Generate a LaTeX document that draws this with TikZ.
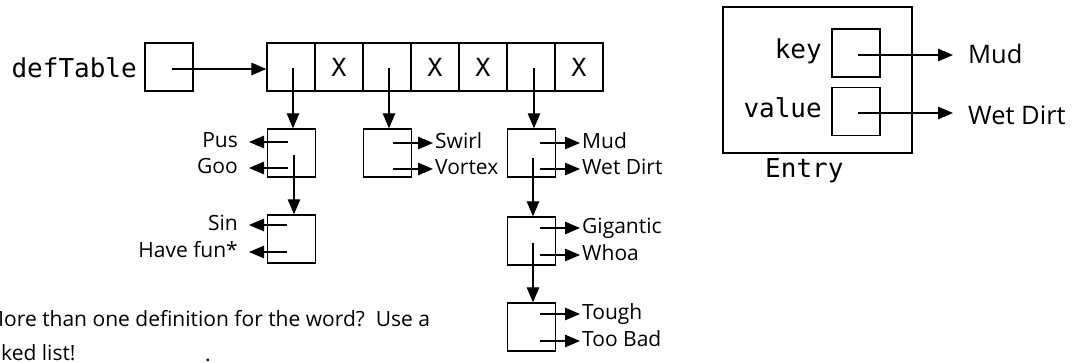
\documentclass[tikz,border=0pt]{standalone}
\usepackage{fontspec}
\setmainfont{Open Sans}
\newfontfamily\codefont{DejaVu Sans Mono}
\usetikzlibrary{arrows.meta}
\tikzset{
  cell/.style={draw, line width=1.3pt, minimum width=48pt, minimum height=48pt,
    inner sep=0pt, font=\codefont\fontsize{25}{30}\selectfont},
  ptr/.style={line width=1.2pt, -{Triangle[length=15pt,width=12.5pt]}},
  word/.style={inner ysep=0pt, inner xsep=2pt, font=\fontsize{21}{25}\selectfont},
  lword/.style={word, anchor=base east, inner xsep=11pt},
  rword/.style={word, anchor=base west},
  bigword/.style={inner ysep=0pt, inner xsep=15pt, anchor=base west,
    font=\fontsize{25.5}{30}\selectfont},
  code/.style={inner sep=0pt, font=\codefont\fontsize{26}{30}\selectfont},
}
\begin{document}
\begin{tikzpicture}[x=1pt,y=-1pt]
\useasboundingbox (0,0) rectangle (1072,362);

% the table reference
\node[code, anchor=base east] (deflabel) at (137,77) {defTable};
\node[cell] (def) at (169,67) {};

% the table slots
\node[cell] (c0) at (291,67) {};
\node[cell] (c1) at (339,67) {X};
\node[cell] (c2) at (387,67) {};
\node[cell] (c3) at (435,67) {X};
\node[cell] (c4) at (483,67) {X};
\node[cell] (c5) at (531,67) {};
\node[cell] (c6) at (579,67) {X};

% chain nodes
\node[cell] (n1) at (291.5,153) {};
\node[cell] (n2) at (291.5,239) {};
\node[cell] (s1) at (387.5,153) {};
\node[cell] (m1) at (531.5,153) {};
\node[cell] (m2) at (531.5,241) {};
\node[cell] (m3) at (531.5,327) {};

% pointer origins
\coordinate (defpt) at (172,69);
\coordinate (c0pt) at (293,68);
\coordinate (c2pt) at (389,68);
\coordinate (c5pt) at (534,68);
\coordinate (n1a) at (288,142);
\coordinate (n1b) at (288,168);
\coordinate (n1d) at (294,155);
\coordinate (n2a) at (287,225);
\coordinate (n2b) at (287,252);
\coordinate (s1a) at (393,143);
\coordinate (s1b) at (393,169);
\coordinate (m1a) at (540,143);
\coordinate (m1b) at (540,169);
\coordinate (m1d) at (533,158);
\coordinate (m2a) at (540,228);
\coordinate (m2b) at (540,255);
\coordinate (m2d) at (533,243);
\coordinate (m3a) at (540,314);
\coordinate (m3b) at (540,341);

% words
\node[lword] (pus) at (249,147.5) {Pus};
\node[lword] (goo) at (249,173.5) {Goo};
\node[lword] (sin) at (249,230.5) {Sin};
\node[lword] (fun) at (249,257.5) {Have fun*};
\node[rword] (swirl) at (433,148.5) {Swirl};
\node[rword] (vortex) at (433,174.5) {Vortex};
\node[rword] (mud) at (580,148.5) {Mud};
\node[rword] (dirt) at (580,174.5) {Wet Dirt};
\node[rword] (gig) at (580,233.5) {Gigantic};
\node[rword] (whoa) at (580,260.5) {Whoa};
\node[rword] (tough) at (580,319.5) {Tough};
\node[rword] (bad) at (580,346.5) {Too Bad};

% links
\draw[ptr] (defpt) -- (defpt -| c0.west);
\draw[ptr] (c0pt) -- (c0pt |- n1.north);
\draw[ptr] (c2pt) -- (c2pt |- s1.north);
\draw[ptr] (c5pt) -- (c5pt |- m1.north);
\draw[ptr] (n1d) -- (n1d |- n2.north);
\draw[ptr] (m1d) -- (m1d |- m2.north);
\draw[ptr] (m2d) -- (m2d |- m3.north);

\draw[ptr] (n1a) -- (n1a -| pus.east);
\draw[ptr] (n1b) -- (n1b -| goo.east);
\draw[ptr] (n2a) -- (n2a -| sin.east);
\draw[ptr] (n2b) -- (n2b -| fun.east);
\draw[ptr] (s1a) -- (s1a -| swirl.west);
\draw[ptr] (s1b) -- (s1b -| vortex.west);
\draw[ptr] (m1a) -- (m1a -| mud.west);
\draw[ptr] (m1b) -- (m1b -| dirt.west);
\draw[ptr] (m2a) -- (m2a -| gig.west);
\draw[ptr] (m2b) -- (m2b -| whoa.west);
\draw[ptr] (m3a) -- (m3a -| tough.west);
\draw[ptr] (m3b) -- (m3b -| bad.west);

% the Entry record
\node[draw, line width=1.3pt, minimum width=189pt, minimum height=146pt, inner sep=0pt]
  (entry) at (817.5,80) {};
\node[cell] (keybox) at (856,53) {};
\node[cell] (valbox) at (856,111.5) {};
\node[code, anchor=base east] (keylabel) at (822,58) {key};
\node[code, anchor=base east] (vallabel) at (822,117) {value};
\node[code, anchor=base west] (entrylabel) at (765,177) {Entry};
\coordinate (keypt) at (858,55);
\coordinate (valpt) at (858,113);
\node[bigword] (emud) at (953,63) {Mud};
\node[bigword] (edirt) at (953,124) {Wet Dirt};
\draw[ptr] (keypt) -- (keypt -| emud.west);
\draw[ptr] (valpt) -- (valpt -| edirt.west);

% note
\node[word, anchor=base west, inner xsep=0pt] (note1) at (4,326)
  {\llap{M}ore than one definition for the word?\ \ Use a};
\node[word, anchor=base west, inner xsep=0pt] (note2) at (1,360) {\llap{lin}ked list!};
\node[word, anchor=base, inner sep=0pt] (dot) at (208,361.5) {.};
\end{tikzpicture}
\end{document}
